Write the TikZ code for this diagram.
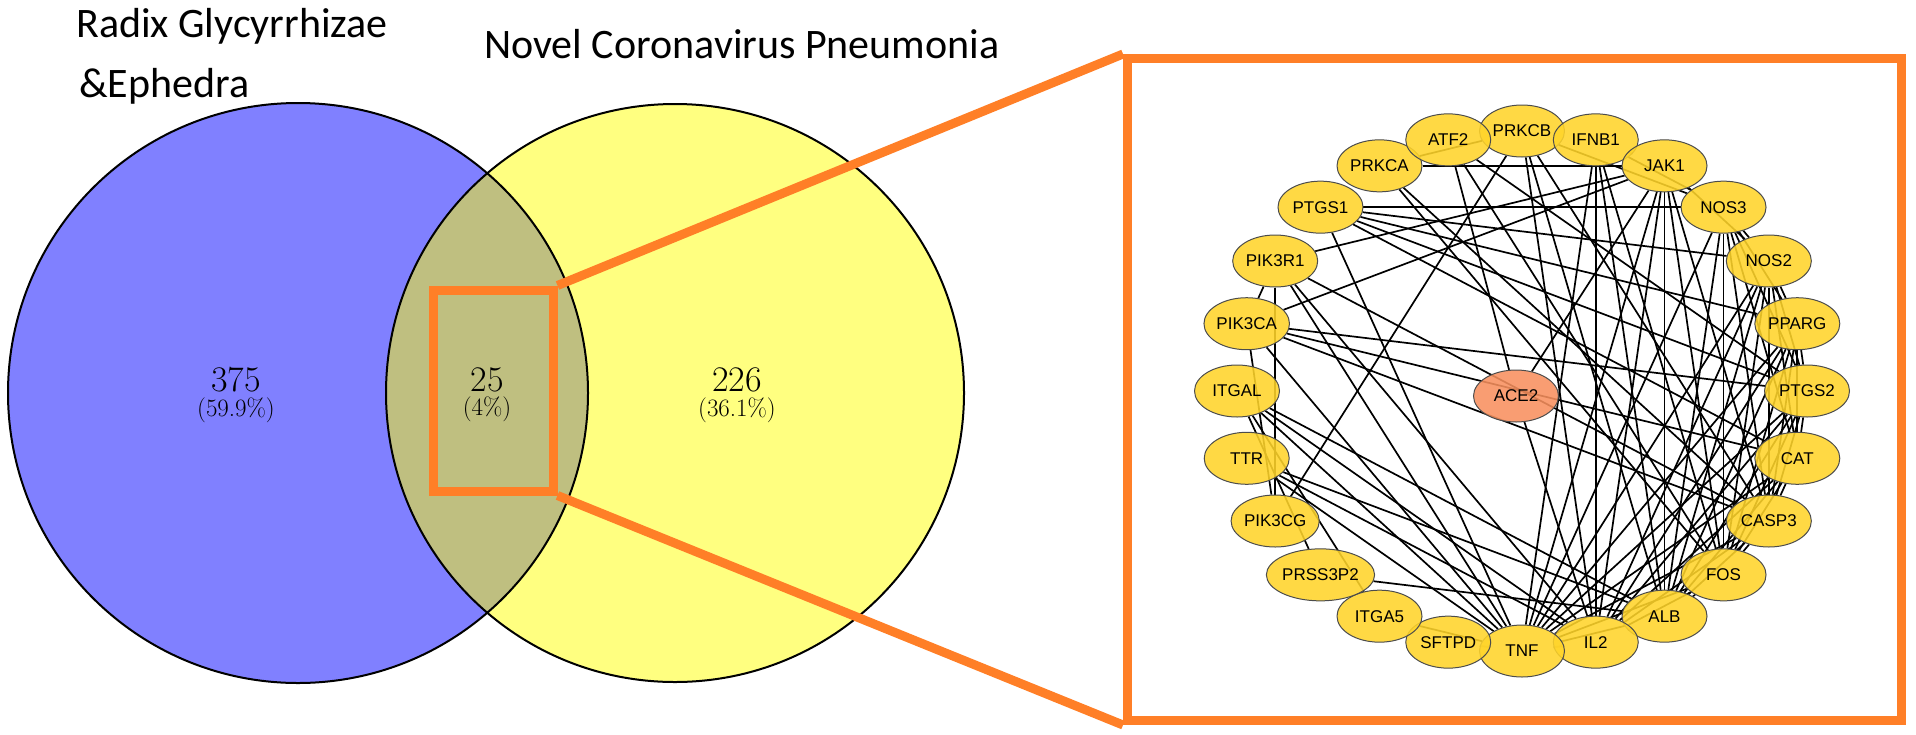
\documentclass[tikz,border=0pt]{standalone}
\usepackage{fontspec}
\newfontfamily\titlefont{Carlito}
\newfontfamily\genefont{Liberation Sans}
\usetikzlibrary{shapes.geometric, backgrounds}
\definecolor{vennblue}{HTML}{8080FF}
\definecolor{vennyellow}{HTML}{FFFF80}
\definecolor{vennmix}{HTML}{BFBF80}
\definecolor{zoomorange}{HTML}{FF7F27}
\definecolor{genegold}{HTML}{FFD42A}
\definecolor{acesalmon}{HTML}{F8905E}
\tikzset{
  title/.style={inner sep=0pt, anchor=base west, font=\titlefont\fontsize{42}{46}\selectfont},
  vennnum/.style={inner sep=0pt, font=\fontsize{36}{40}\selectfont},
  vennpct/.style={inner sep=0pt, font=\fontsize{25}{28}\selectfont},
  zoombox/.style={draw=zoomorange, line width=9pt, inner sep=0pt},
  zoomline/.style={zoomorange, line width=9pt},
  gene/.style={ellipse, draw=black!70, line width=1pt, fill=genegold, fill opacity=0.88,
    text opacity=1, minimum width=85pt, minimum height=52pt, inner sep=0pt,
    font=\genefont\fontsize{17}{20}\selectfont},
  link/.style={black, line width=1.7pt},
}
\begin{document}
\begin{tikzpicture}[x=1pt, y=-1pt]
  \useasboundingbox (0,0) rectangle (1916,734);
  % Venn diagram
  \fill[vennblue] (298,393) circle[radius=290pt];
  \fill[vennyellow] (675,393) circle[radius=289pt];
  \begin{scope}
    \clip (298,393) circle[radius=290pt];
    \fill[vennmix] (675,393) circle[radius=289pt];
  \end{scope}
  \draw[line width=2pt] (298,393) circle[radius=290pt];
  \draw[line width=2pt] (675,393) circle[radius=289pt];
  \node[title] (herb) at (76,37) {Radix Glycyrrhizae};
  \node[title] (herb2) at (79,97) {\&Ephedra};
  \node[title] (ncp) at (484,58) {Novel Coronavirus Pneumonia};
  \node[vennnum] (left) at (236,380) {375};
  \node[vennpct] (leftpct) at (236,410) {(59.9\%)};
  \node[vennnum] (mid) at (487,380) {25};
  \node[vennpct] (midpct) at (487,409) {(4\%)};
  \node[vennnum] (right) at (737,380) {226};
  \node[vennpct] (rightpct) at (737,410) {(36.1\%)};
  % zoom frames
  \node[zoombox, minimum width=120pt, minimum height=201pt] (small) at (493,390.5) {};
  \node[zoombox, minimum width=774pt, minimum height=662pt] (big) at (1514.5,389.5) {};
  \draw[zoomline] (small.north east) -- (big.north west);
  \draw[zoomline] (small.south east) -- (big.south west);
  % PPI network, circular layout
  \foreach \g/\lab [count=\i from 0] in {prkcb/PRKCB, ifnb1/IFNB1, jak1/JAK1, nos3/NOS3,
      nos2/NOS2, pparg/PPARG, ptgs2/PTGS2, cat/CAT, casp3/CASP3, fos/FOS, alb/ALB, il2/IL2,
      tnf/TNF, sftpd/SFTPD, itga5/ITGA5, prss3p2/PRSS3P2, pik3cg/PIK3CG, ttr/TTR, itgal/ITGAL,
      pik3ca/PIK3CA, pik3r1/PIK3R1, ptgs1/PTGS1, prkca/PRKCA, atf2/ATF2}
    \node[gene] (\g) at ({1522+285*cos(90-15*\i)}, {391-260*sin(90-15*\i)}) {\lab};
  \node[gene, fill=acesalmon] (ace2) at (1516,396) {ACE2};
  \begin{scope}[on background layer]
    \foreach \a/\b in {prkca/jak1, ptgs1/nos3, pik3r1/jak1, pik3ca/jak1, pik3ca/ptgs2,
        ptgs1/tnf, prkcb/pik3cg, atf2/ace2, ace2/jak1, ace2/il2, pik3r1/pik3ca, pik3r1/pik3cg,
        pik3ca/pik3cg, itgal/itga5, itgal/tnf, ttr/tnf, pik3r1/tnf, pik3ca/tnf, prss3p2/alb,
        itgal/il2, itgal/alb, ttr/il2, ttr/alb, tnf/fos, pik3r1/casp3, pik3r1/il2, prkca/fos,
        prkca/casp3, prkca/prkcb, atf2/fos, atf2/ptgs2, prkcb/il2, prkcb/alb, prkcb/casp3,
        prkcb/nos3, ifnb1/tnf, ifnb1/il2, ifnb1/alb, ifnb1/fos, ifnb1/nos3, ifnb1/jak1,
        ptgs1/nos2, ptgs1/pparg, ptgs1/ptgs2, ptgs1/cat, pik3ca/cat, pik3ca/casp3,
        itgal/prss3p2, itga5/tnf, sftpd/tnf,
        tnf/il2, tnf/alb, tnf/casp3, tnf/cat, tnf/ptgs2, tnf/pparg, tnf/nos2, tnf/nos3, tnf/jak1,
        il2/alb, il2/fos, il2/casp3, il2/cat, il2/ptgs2, il2/pparg, il2/nos2, il2/jak1,
        alb/fos, alb/casp3, alb/cat, alb/ptgs2, alb/pparg, alb/nos2, alb/nos3, alb/jak1,
        fos/casp3, fos/cat, fos/ptgs2, fos/pparg, fos/nos2, fos/nos3, fos/jak1,
        casp3/cat, casp3/ptgs2, casp3/pparg, casp3/nos2, casp3/nos3, casp3/jak1,
        cat/ptgs2, cat/pparg, cat/nos2, cat/nos3, ptgs2/pparg, ptgs2/nos2, ptgs2/nos3,
        pparg/nos2, pparg/nos3, nos2/nos3, jak1/nos2}
      \draw[link] (\a) -- (\b);
  \end{scope}
\end{tikzpicture}
\end{document}
